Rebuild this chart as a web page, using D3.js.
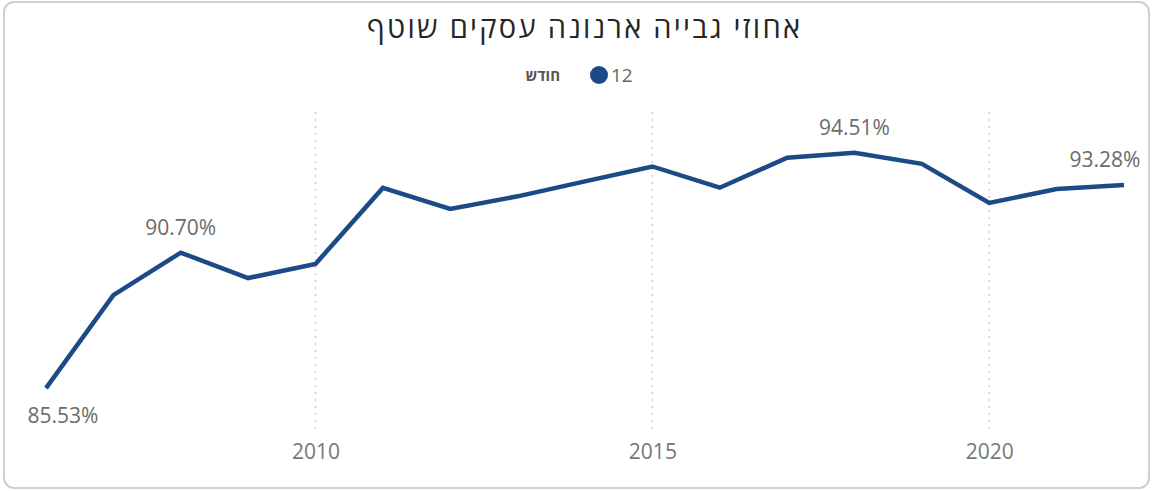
<!DOCTYPE html>
<html><head><meta charset="utf-8">
<script src="https://cdn.jsdelivr.net/npm/d3@7"></script>
<style>
html,body{margin:0;padding:0;background:#fff;}
svg{display:block;font-family:"Open Sans","DejaVu Sans",sans-serif;}
</style></head>
<body>
<svg id="chart" width="1153" height="491"></svg>
<script>
const title = "אחוזי גבייה ארנונה עסקים שוטף";
const legendTitle = "חודש";
const legendItem = "12";
const years = [2006,2007,2008,2009,2010,2011,2012,2013,2014,2015,2016,2017,2018,2019,2020,2021,2022];
const values = [85.53,89.08,90.70,89.73,90.27,93.17,92.37,92.85,93.42,93.99,93.18,94.32,94.51,94.09,92.60,93.13,93.28];
const tickYears = [2010,2015,2020];
const labelYears = [2006,2008,2018,2022];

const svg = d3.select("#chart");
const W = 1153, H = 491;
const lineColor = "#1b4a86";

// card
svg.append("rect").attr("x",4).attr("y",2).attr("width",W-8).attr("height",H-5)
  .attr("rx",10).attr("fill","#fff").attr("stroke","#cfcfcf").attr("stroke-width",2);

const x = d3.scaleLinear().domain([2006,2022]).range([46,1124]);
const y = d3.scaleLinear().domain([85,95]).range([402,140]);

// title
svg.append("text").attr("x",583.5).attr("y",38).attr("text-anchor","middle")
  .attr("font-size",29).attr("fill","#252525")
  .attr("textLength",433).attr("lengthAdjust","spacing").text(title);

// legend
const lg = svg.append("g");
lg.append("text").attr("x",560).attr("y",81).attr("text-anchor","end")
  .attr("font-size",15).attr("font-weight","bold").attr("fill","#555").text(legendTitle);
lg.append("circle").attr("cx",599).attr("cy",75).attr("r",9).attr("fill",lineColor);
lg.append("text").attr("x",611).attr("y",82).attr("font-size",19).attr("fill","#666").text(legendItem);

// x axis
const xAxis = d3.axisBottom(x).tickValues(tickYears).tickFormat(d3.format("d")).tickSize(0).tickPadding(0);
const ax = svg.append("g").attr("transform","translate(0,438)").call(xAxis);
ax.select(".domain").remove();
ax.selectAll("text").attr("font-size",21).attr("fill","#777").attr("dy","1em")
  .style("font-family","'Open Sans','DejaVu Sans',sans-serif");

// grid
svg.append("g").selectAll("line").data(tickYears).join("line")
  .attr("x1",d=>x(d)).attr("x2",d=>x(d)).attr("y1",112).attr("y2",432)
  .attr("stroke","#cfcfcf").attr("stroke-width",1.5).attr("stroke-dasharray","2,5");

// line
const data = years.map((yr,i)=>({yr,v:values[i]}));
svg.append("path").datum(data)
  .attr("fill","none").attr("stroke",lineColor).attr("stroke-width",4.5)
  .attr("stroke-linejoin","miter").attr("stroke-linecap","butt")
  .attr("d",d3.line().x(d=>x(d.yr)).y(d=>y(d.v)));

// data labels
const lab = svg.append("g");
data.filter(d=>labelYears.includes(d.yr)).forEach(d=>{
  const below = d.yr===2006;
  let cx = x(d.yr);
  const half = 37;
  cx = Math.max(26+half, Math.min(1142-half, cx));
  lab.append("text").attr("x",cx).attr("y", below ? y(d.v)+35 : y(d.v)-18)
    .attr("text-anchor","middle").attr("font-size",21).attr("fill","#6b6b6b")
    .text(d.v.toFixed(2)+"%");
});
</script>
</body></html>
